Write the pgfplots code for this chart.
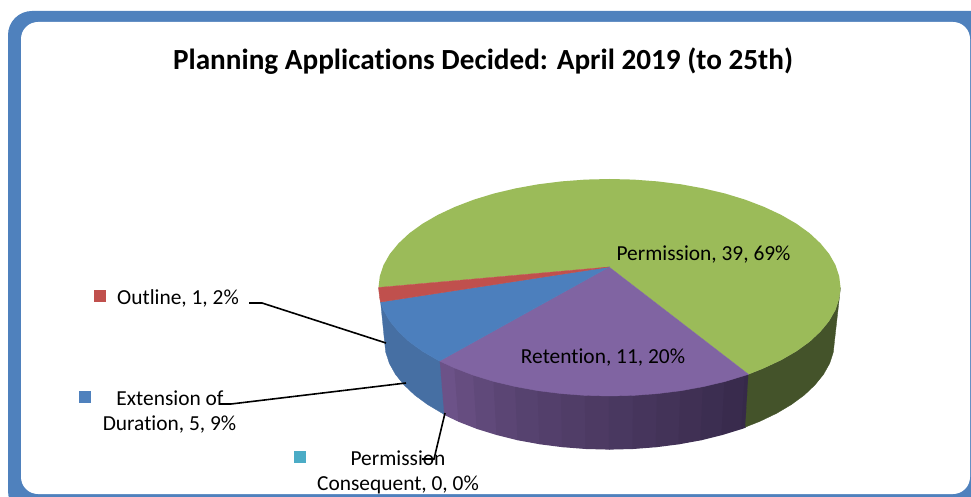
\documentclass[border=0pt]{standalone}
\usepackage{pgfplots}
\pgfplotsset{compat=1.18}
\usepackage{fontspec}
\setmainfont[Ligatures=NoCommon]{Carlito}
\definecolor{gtop}{HTML}{9BBB59}
\definecolor{gside}{HTML}{44532A}
\definecolor{rtop}{HTML}{C0504D}
\definecolor{btop}{HTML}{4C7FBD}
\definecolor{bside}{HTML}{466FA3}
\definecolor{ptop}{HTML}{8064A2}
\definecolor{pa}{HTML}{6C5288}
\definecolor{pb}{HTML}{362949}
\definecolor{teal1}{HTML}{4BACC6}
\definecolor{frame}{HTML}{4F81BD}
\newcommand{\lab}[3]{\node[font=\fontsize{21.4}{24}\selectfont,anchor=center,inner sep=0pt] at (axis cs:#1,#2) {#3};}
\newcommand{\strip}[3]{\addplot[fill=pa!#1!pb,draw=pa!#1!pb,line width=1.2pt,line join=round] coordinates {#2 #3} --cycle;}
\begin{document}
\begin{tikzpicture}
\begin{axis}[scale only axis,width=971pt,height=497pt,xmin=0,xmax=971,ymin=0,ymax=497,y dir=reverse,hide axis,clip=true]
\path (axis cs:0,0) -- (axis cs:971,497);
\fill[overlay,frame,rounded corners=24pt] (axis cs:8,11) rectangle (axis cs:995,515);
\fill[overlay,white,rounded corners=17pt] (axis cs:21,22) rectangle (axis cs:970,494);
% purple side strips
\strip{100}{(439.5,361)(454.9,368.1)}{(459.0,421.3)(443.9,414.1)}
\strip{88}{(454.9,368.1)(473.7,375.3)}{(477.2,428.4)(459.0,421.3)}
\strip{78}{(473.7,375.3)(494.0,381.5)}{(497.0,434.5)(477.2,428.4)}
\strip{68}{(494.0,381.5)(515.6,386.6)}{(518.0,439.7)(497.0,434.5)}
\strip{60}{(515.6,386.6)(538.1,390.7)}{(540.0,443.7)(518.0,439.7)}
\strip{54}{(538.1,390.7)(561.5,393.6)}{(562.7,446.6)(540.0,443.7)}
\strip{48}{(561.5,393.6)(585.4,395.4)}{(586.0,448.4)(562.7,446.6)}
\strip{42}{(585.4,395.4)(609.5,396.0)}{(609.5,449.0)(586.0,448.4)}
\strip{36}{(609.5,396.0)(633.6,395.4)}{(633.0,448.4)(609.5,449.0)}
\strip{30}{(633.6,395.4)(657.5,393.6)}{(656.3,446.6)(633.0,448.4)}
\strip{24}{(657.5,393.6)(680.9,390.7)}{(679.0,443.7)(656.3,446.6)}
\strip{18}{(680.9,390.7)(703.4,386.6)}{(701.0,439.7)(679.0,443.7)}
\strip{12}{(703.4,386.6)(725.0,381.5)}{(722.0,434.5)(701.0,439.7)}
\strip{6}{(725.0,381.5)(745.3,375.3)}{(741.8,428.4)(722.0,434.5)}
\strip{0}{(745.3,375.3)(748.5,374.4)}{(745.4,427.1)(741.8,428.4)}
% green side
\addplot[fill=gside,draw=gside,line width=0.3pt] coordinates {(748.5,374.4)(764.1,368.1)(781.2,360.1)(796.4,351.3)(809.6,341.8)(820.5,331.6)(829.2,321.0)(835.4,310.1)(839.2,298.8)(840.5,287.5)(834.5,341.0)(833.3,352.3)(829.6,363.5)(823.5,374.4)(815.0,384.9)(804.4,395.0)(791.5,404.5)(776.7,413.3)(760.0,421.3)(745.4,427.1)} --cycle;
% blue side
\addplot[fill=bside,draw=bside,line width=0.3pt] coordinates {(380.6,302.0)(383.6,310.1)(389.8,321.0)(398.5,331.6)(409.4,341.8)(422.6,351.3)(437.8,360.1)(439.5,361)(443.9,414.1)(442.3,413.3)(427.5,404.5)(414.6,395.0)(404.0,384.9)(395.5,374.4)(389.4,363.5)(385.7,352.3)(384.5,341.0)} --cycle;
% green top
\addplot[fill=gtop,draw=none] coordinates {(609,267)(748.5,374.4)(764.1,368.1)(781.2,360.1)(796.4,351.3)(809.6,341.8)(820.5,331.6)(829.2,321.0)(835.4,310.1)(839.2,298.8)(840.5,287.5)(839.2,276.2)(835.4,264.9)(829.2,254.0)(820.5,243.4)(809.6,233.2)(796.4,223.7)(781.2,214.9)(764.1,206.9)(745.3,199.7)(725.0,193.5)(703.4,188.4)(680.9,184.3)(657.5,181.4)(633.6,179.6)(609.5,179.0)(585.4,179.6)(561.5,181.4)(538.1,184.3)(515.6,188.4)(494.0,193.5)(473.7,199.7)(454.9,206.9)(437.8,214.9)(422.6,223.7)(409.4,233.2)(398.5,243.4)(389.8,254.0)(383.6,264.9)(379.8,276.2)(378.5,287.5)} --cycle;
% purple top
\addplot[fill=ptop,draw=ptop,line width=0.4pt] coordinates {(609,267)(439.5,361)(454.9,368.1)(473.7,375.3)(494.0,381.5)(515.6,386.6)(538.1,390.7)(561.5,393.6)(585.4,395.4)(609.5,396.0)(633.6,395.4)(657.5,393.6)(680.9,390.7)(703.4,386.6)(725.0,381.5)(745.3,375.3)(748.5,374.4)} --cycle;
% blue top
\addplot[fill=btop,draw=btop,line width=0.4pt] coordinates {(609,267)(380.6,302.0)(383.6,310.1)(389.8,321.0)(398.5,331.6)(409.4,341.8)(422.6,351.3)(437.8,360.1)(439.5,361)} --cycle;
% red top
\addplot[fill=rtop,draw=rtop,line width=0.4pt] coordinates {(609,267)(378.5,287.5)(379.8,298.8)(380.6,302.0)} --cycle;
% leaders
\addplot[black,line width=1.6pt] coordinates {(249,303)(262,303)(386,343)};
\addplot[black,line width=1.6pt] coordinates {(220,404)(231,404)(406,383)};
\addplot[black,line width=1.6pt] coordinates {(422,459)(434,459)(445,413)};
% legend keys
\addplot[fill=rtop,draw=none] coordinates {(94,290)(106,290)(106,302)(94,302)} --cycle;
\addplot[fill=frame,draw=none] coordinates {(79,391)(91,391)(91,403)(79,403)} --cycle;
\addplot[fill=teal1,draw=none] coordinates {(294,451)(306,451)(306,463)(294,463)} --cycle;
% text
\node[font=\fontsize{29.2}{32}\selectfont\bfseries,inner sep=0pt] at (axis cs:483,61) {Planning Applications Decided: April 2019 (to 25th)};
\lab{703.5}{254.5}{Permission, 39, 69\%}
\lab{603}{357.5}{Retention, 11, 20\%}
\lab{178}{298.5}{Outline, 1, 2\%}
\lab{170}{398.5}{Extension of}
\lab{169.5}{424.5}{Duration, 5, 9\%}
\lab{398}{458.5}{Permission}
\lab{398}{485}{Consequent, 0, 0\%}
\end{axis}
\end{tikzpicture}
\end{document}
